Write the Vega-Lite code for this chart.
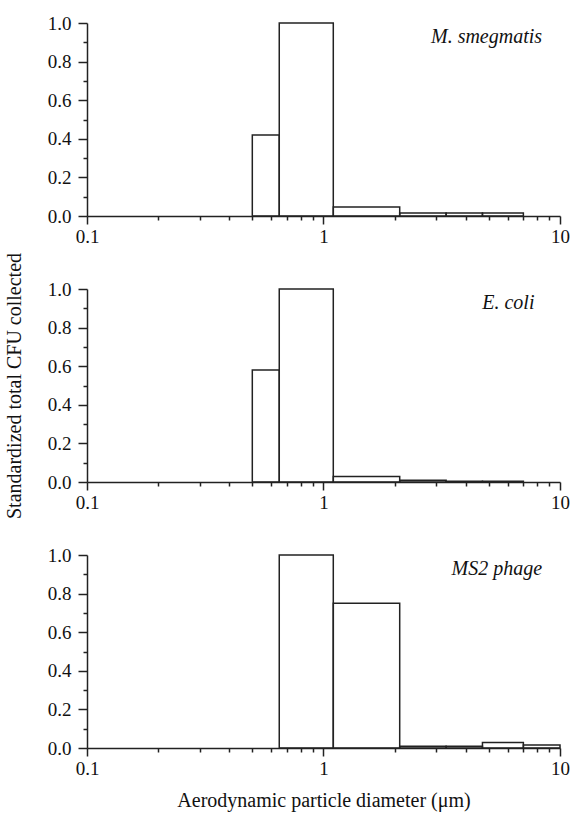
{
  "$schema": "https://vega.github.io/schema/vega-lite/v6.json",
  "padding": {"left": 4, "top": 14, "right": 0, "bottom": 5},
  "bounds": "flush",
  "spacing": 73,
  "background": "white",
  "datasets": {
    "bins": [
      {"panel": "M. smegmatis", "lo": 0.5, "hi": 0.65, "value": 0.42},
      {"panel": "M. smegmatis", "lo": 0.65, "hi": 1.1, "value": 1.0},
      {"panel": "M. smegmatis", "lo": 1.1, "hi": 2.1, "value": 0.047},
      {"panel": "M. smegmatis", "lo": 2.1, "hi": 3.3, "value": 0.016},
      {"panel": "M. smegmatis", "lo": 3.3, "hi": 4.7, "value": 0.016},
      {"panel": "M. smegmatis", "lo": 4.7, "hi": 7.0, "value": 0.016},
      {"panel": "E. coli", "lo": 0.5, "hi": 0.65, "value": 0.58},
      {"panel": "E. coli", "lo": 0.65, "hi": 1.1, "value": 1.0},
      {"panel": "E. coli", "lo": 1.1, "hi": 2.1, "value": 0.029},
      {"panel": "E. coli", "lo": 2.1, "hi": 3.3, "value": 0.009},
      {"panel": "E. coli", "lo": 3.3, "hi": 4.7, "value": 0.004},
      {"panel": "E. coli", "lo": 4.7, "hi": 7.0, "value": 0.004},
      {"panel": "MS2 phage", "lo": 0.65, "hi": 1.1, "value": 1.0},
      {"panel": "MS2 phage", "lo": 1.1, "hi": 2.1, "value": 0.75},
      {"panel": "MS2 phage", "lo": 2.1, "hi": 3.3, "value": 0.009},
      {"panel": "MS2 phage", "lo": 3.3, "hi": 4.7, "value": 0.009},
      {"panel": "MS2 phage", "lo": 4.7, "hi": 7.0, "value": 0.028},
      {"panel": "MS2 phage", "lo": 7.0, "hi": 10.0, "value": 0.016}
    ],
    "labels": [
      {"panel": "M. smegmatis"},
      {"panel": "E. coli"},
      {"panel": "MS2 phage"}
    ]
  },
  "config": {
    "view": {"stroke": null},
    "font": "Liberation Serif",
    "style": {
      "guide-label": {"font": "Liberation Serif", "fontSize": 19, "fill": "#111"},
      "guide-title": {"font": "Liberation Serif", "fontSize": 20, "fontWeight": "normal", "fill": "#111"}
    },
    "axis": {
      "labelFont": "Liberation Serif",
      "titleFont": "Liberation Serif",
      "labelFontSize": 19,
      "titleFontSize": 20,
      "titleFontWeight": "normal",
      "labelColor": "#111",
      "titleColor": "#111",
      "domainColor": "#222",
      "tickColor": "#222",
      "domainWidth": 1.5,
      "tickWidth": 1.5,
      "grid": false,
      "labelOverlap": false,
      "labelFlush": false,
      "labelBound": false
    }
  },
  "vconcat": [
    {
      "width": 473,
      "height": 193,
      "resolve": {"axis": {"x": "independent", "y": "independent"}},
      "layer": [
        {
          "data": {"name": "bins"},
          "transform": [{"filter": "datum.panel == 'M. smegmatis'"}],
          "mark": {"type": "rect", "fill": "white", "fillOpacity": 0, "stroke": "#222", "strokeWidth": 1.5},
          "encoding": {
            "x": {"field": "lo", "type": "quantitative", "scale": {"type": "log", "domain": [0.1, 10], "nice": false},
              "axis": {"title": null, "orient": "bottom", "values": [0.1, 1, 10], "format": "~g", "tickSize": 8, "labelPadding": 3}},
            "x2": {"field": "hi"},
            "y": {"field": "value", "type": "quantitative", "scale": {"domain": [0, 1], "nice": false},
              "axis": {"title": null, "orient": "left", "values": [0, 0.2, 0.4, 0.6, 0.8, 1], "format": ".1f", "tickSize": 9, "labelPadding": 7}},
            "y2": {"datum": 0}
          }
        },
        {
          "data": {"name": "labels"},
          "transform": [{"filter": "datum.panel == 'M. smegmatis'"}],
          "mark": {"type": "text", "align": "right", "baseline": "middle", "font": "Liberation Serif", "fontStyle": "italic", "fontSize": 20, "color": "#111"},
          "encoding": {
            "x": {"datum": 8.4, "type": "quantitative",
              "axis": {"title": null, "orient": "bottom", "values": [0.2,0.3,0.4,0.5,0.6,0.7,0.8,0.9,2,3,4,5,6,7,8,9], "labels": false, "domain": false, "tickSize": 4}},
            "y": {"datum": 0.93, "type": "quantitative",
              "axis": {"title": null, "orient": "left", "values": [0.1,0.3,0.5,0.7,0.9], "labels": false, "domain": false, "tickSize": 4}},
            "text": {"field": "panel"}
          }
        }
      ]
    },
    {
      "width": 473,
      "height": 193,
      "resolve": {"axis": {"x": "independent", "y": "independent"}},
      "layer": [
        {
          "data": {"name": "bins"},
          "transform": [{"filter": "datum.panel == 'E. coli'"}],
          "mark": {"type": "rect", "fill": "white", "fillOpacity": 0, "stroke": "#222", "strokeWidth": 1.5},
          "encoding": {
            "x": {"field": "lo", "type": "quantitative", "scale": {"type": "log", "domain": [0.1, 10], "nice": false},
              "axis": {"title": null, "orient": "bottom", "values": [0.1, 1, 10], "format": "~g", "tickSize": 8, "labelPadding": 3}},
            "x2": {"field": "hi"},
            "y": {"field": "value", "type": "quantitative", "scale": {"domain": [0, 1], "nice": false},
              "axis": {"title": "Standardized total CFU collected", "titlePadding": 23, "orient": "left", "values": [0, 0.2, 0.4, 0.6, 0.8, 1], "format": ".1f", "tickSize": 9, "labelPadding": 7}},
            "y2": {"datum": 0}
          }
        },
        {
          "data": {"name": "labels"},
          "transform": [{"filter": "datum.panel == 'E. coli'"}],
          "mark": {"type": "text", "align": "right", "baseline": "middle", "font": "Liberation Serif", "fontStyle": "italic", "fontSize": 20, "color": "#111"},
          "encoding": {
            "x": {"datum": 7.8, "type": "quantitative",
              "axis": {"title": null, "orient": "bottom", "values": [0.2,0.3,0.4,0.5,0.6,0.7,0.8,0.9,2,3,4,5,6,7,8,9], "labels": false, "domain": false, "tickSize": 4}},
            "y": {"datum": 0.93, "type": "quantitative",
              "axis": {"title": null, "orient": "left", "values": [0.1,0.3,0.5,0.7,0.9], "labels": false, "domain": false, "tickSize": 4}},
            "text": {"field": "panel"}
          }
        }
      ]
    },
    {
      "width": 473,
      "height": 193,
      "resolve": {"axis": {"x": "independent", "y": "independent"}},
      "layer": [
        {
          "data": {"name": "bins"},
          "transform": [{"filter": "datum.panel == 'MS2 phage'"}],
          "mark": {"type": "rect", "fill": "white", "fillOpacity": 0, "stroke": "#222", "strokeWidth": 1.5},
          "encoding": {
            "x": {"field": "lo", "type": "quantitative", "scale": {"type": "log", "domain": [0.1, 10], "nice": false},
              "axis": {"title": "Aerodynamic particle diameter (μm)", "titlePadding": 12, "orient": "bottom", "values": [0.1, 1, 10], "format": "~g", "tickSize": 8, "labelPadding": 3}},
            "x2": {"field": "hi"},
            "y": {"field": "value", "type": "quantitative", "scale": {"domain": [0, 1], "nice": false},
              "axis": {"title": null, "orient": "left", "values": [0, 0.2, 0.4, 0.6, 0.8, 1], "format": ".1f", "tickSize": 9, "labelPadding": 7}},
            "y2": {"datum": 0}
          }
        },
        {
          "data": {"name": "labels"},
          "transform": [{"filter": "datum.panel == 'MS2 phage'"}],
          "mark": {"type": "text", "align": "right", "baseline": "middle", "font": "Liberation Serif", "fontStyle": "italic", "fontSize": 20, "color": "#111"},
          "encoding": {
            "x": {"datum": 8.4, "type": "quantitative",
              "axis": {"title": null, "orient": "bottom", "values": [0.2,0.3,0.4,0.5,0.6,0.7,0.8,0.9,2,3,4,5,6,7,8,9], "labels": false, "domain": false, "tickSize": 4}},
            "y": {"datum": 0.93, "type": "quantitative",
              "axis": {"title": null, "orient": "left", "values": [0.1,0.3,0.5,0.7,0.9], "labels": false, "domain": false, "tickSize": 4}},
            "text": {"field": "panel"}
          }
        }
      ]
    }
  ]
}
